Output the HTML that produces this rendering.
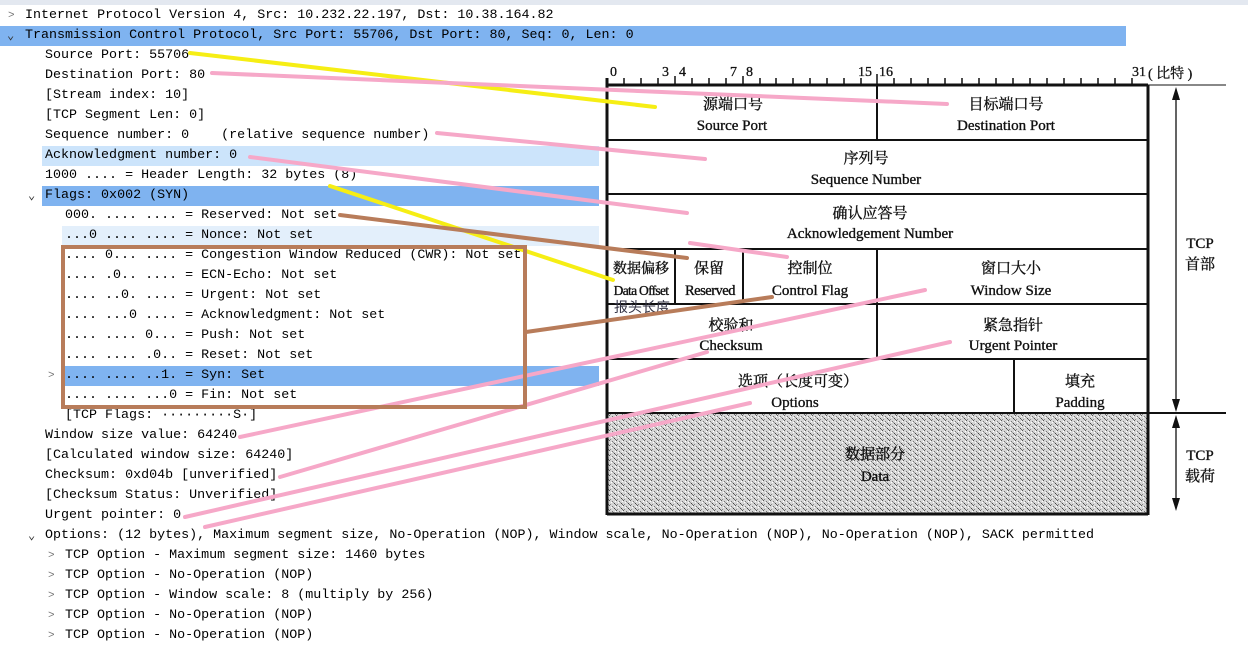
<!DOCTYPE html>
<html><head><meta charset="utf-8"><style>
body{margin:0;width:1248px;height:650px;overflow:hidden;background:#fff;position:relative;font-family:"Liberation Mono","Noto Sans CJK SC",monospace;}
.top{position:absolute;left:0;top:0;width:1248px;height:5px;background:#e3e8f0;}
.r{position:absolute;height:20px;line-height:20px;font-size:13.35px;color:#000;white-space:pre;}
.hl{position:absolute;height:20px;}
.ch{position:absolute;font-size:11px;color:#777;line-height:20px;}
</style></head><body>
<div class="top"></div>
<div class="hl" style="left:0;top:26px;width:1126px;background:#7fb3f0"></div>
<div class="hl" style="left:42px;top:146px;width:557px;background:#cce4fb"></div>
<div class="hl" style="left:42px;top:186px;width:557px;background:#7fb3f0"></div>
<div class="hl" style="left:62px;top:226px;width:537px;background:#e3effb"></div>
<div class="hl" style="left:62px;top:366px;width:537px;background:#7fb3f0"></div>
<div class="ch" style="left:8px;top:6px">&gt;</div>
<div class="ch" style="left:7px;top:26px;font-size:12px;color:#333">&#8964;</div>
<div class="ch" style="left:28px;top:186px;font-size:12px;color:#333">&#8964;</div>
<div class="ch" style="left:48px;top:366px">&gt;</div>
<div class="ch" style="left:28px;top:526px;font-size:12px;color:#333">&#8964;</div>
<div class="ch" style="left:48px;top:546px">&gt;</div>
<div class="ch" style="left:48px;top:566px">&gt;</div>
<div class="ch" style="left:48px;top:586px">&gt;</div>
<div class="ch" style="left:48px;top:606px">&gt;</div>
<div class="ch" style="left:48px;top:626px">&gt;</div>
<div class="r" style="left:25px;top:6px">Internet Protocol Version 4, Src: 10.232.22.197, Dst: 10.38.164.82</div>
<div class="r" style="left:25px;top:26px">Transmission Control Protocol, Src Port: 55706, Dst Port: 80, Seq: 0, Len: 0</div>
<div class="r" style="left:45px;top:46px">Source Port: 55706</div>
<div class="r" style="left:45px;top:66px">Destination Port: 80</div>
<div class="r" style="left:45px;top:86px">[Stream index: 10]</div>
<div class="r" style="left:45px;top:106px">[TCP Segment Len: 0]</div>
<div class="r" style="left:45px;top:126px">Sequence number: 0    (relative sequence number)</div>
<div class="r" style="left:45px;top:146px">Acknowledgment number: 0</div>
<div class="r" style="left:45px;top:166px">1000 .... = Header Length: 32 bytes (8)</div>
<div class="r" style="left:45px;top:186px">Flags: 0x002 (SYN)</div>
<div class="r" style="left:65px;top:206px">000. .... .... = Reserved: Not set</div>
<div class="r" style="left:65px;top:226px">...0 .... .... = Nonce: Not set</div>
<div class="r" style="left:65px;top:246px">.... 0... .... = Congestion Window Reduced (CWR): Not set</div>
<div class="r" style="left:65px;top:266px">.... .0.. .... = ECN-Echo: Not set</div>
<div class="r" style="left:65px;top:286px">.... ..0. .... = Urgent: Not set</div>
<div class="r" style="left:65px;top:306px">.... ...0 .... = Acknowledgment: Not set</div>
<div class="r" style="left:65px;top:326px">.... .... 0... = Push: Not set</div>
<div class="r" style="left:65px;top:346px">.... .... .0.. = Reset: Not set</div>
<div class="r" style="left:65px;top:366px">.... .... ..1. = Syn: Set</div>
<div class="r" style="left:65px;top:386px">.... .... ...0 = Fin: Not set</div>
<div class="r" style="left:65px;top:406px">[TCP Flags: ·········S·]</div>
<div class="r" style="left:45px;top:426px">Window size value: 64240</div>
<div class="r" style="left:45px;top:446px">[Calculated window size: 64240]</div>
<div class="r" style="left:45px;top:466px">Checksum: 0xd04b [unverified]</div>
<div class="r" style="left:45px;top:486px">[Checksum Status: Unverified]</div>
<div class="r" style="left:45px;top:506px">Urgent pointer: 0</div>
<div class="r" style="left:45px;top:526px">Options: (12 bytes), Maximum segment size, No-Operation (NOP), Window scale, No-Operation (NOP), No-Operation (NOP), SACK permitted</div>
<div class="r" style="left:65px;top:546px">TCP Option - Maximum segment size: 1460 bytes</div>
<div class="r" style="left:65px;top:566px">TCP Option - No-Operation (NOP)</div>
<div class="r" style="left:65px;top:586px">TCP Option - Window scale: 8 (multiply by 256)</div>
<div class="r" style="left:65px;top:606px">TCP Option - No-Operation (NOP)</div>
<div class="r" style="left:65px;top:626px">TCP Option - No-Operation (NOP)</div>

<svg width="1248" height="650" style="position:absolute;left:0;top:0" xmlns="http://www.w3.org/2000/svg">
<defs>
<pattern id="nz" width="7" height="5" patternUnits="userSpaceOnUse">
<rect width="7" height="5" fill="#d6d6d6"/>
<rect x="0" y="0" width="1" height="1" fill="#555"/><rect x="3" y="1" width="1" height="1" fill="#777"/>
<rect x="5" y="3" width="1" height="1" fill="#444"/><rect x="1" y="4" width="1" height="1" fill="#888"/>
<rect x="4" y="2" width="1" height="1" fill="#999"/><rect x="6" y="4" width="1" height="1" fill="#666"/>
<rect x="2" y="2" width="1" height="1" fill="#fff"/><rect x="6" y="1" width="1" height="1" fill="#fff"/>
</pattern>
</defs>
<g font-family="Liberation Serif, Noto Serif CJK SC, serif" fill="#111">
<rect x="607" y="413" width="541" height="100" fill="url(#nz)"/>
<g stroke="#111" stroke-width="2" fill="none">
<line x1="607" y1="85" x2="1148" y2="85" stroke-width="3"/>
<line x1="607" y1="78" x2="607" y2="515" stroke-width="3"/>
<line x1="1148" y1="85" x2="1148" y2="515" stroke-width="3"/>
<line x1="607" y1="514" x2="1148" y2="514" stroke-width="3"/>
<line x1="607" y1="140" x2="1148" y2="140"/>
<line x1="607" y1="194" x2="1148" y2="194"/>
<line x1="607" y1="249" x2="1148" y2="249"/>
<line x1="607" y1="304" x2="1148" y2="304"/>
<line x1="607" y1="359" x2="1148" y2="359"/>
<line x1="607" y1="413" x2="1226" y2="413"/>
<line x1="1148" y1="85" x2="1226" y2="85" stroke-width="1"/>
<line x1="877" y1="85" x2="877" y2="140"/>
<line x1="877" y1="249" x2="877" y2="359"/>
<line x1="675" y1="249" x2="675" y2="304"/>
<line x1="743" y1="249" x2="743" y2="304"/>
<line x1="1014" y1="359" x2="1014" y2="413"/>
<line x1="1176" y1="92" x2="1176" y2="408" stroke-width="1.3"/>
<line x1="1176" y1="420" x2="1176" y2="507" stroke-width="1.3"/>
</g>
<g fill="#111">
<polygon points="1176,87 1172,100 1180,100"/><polygon points="1176,412 1172,399 1180,399"/>
<polygon points="1176,415 1172,428 1180,428"/><polygon points="1176,511 1172,498 1180,498"/>
</g>
<g stroke="#111" stroke-width="1.5">
<line x1="624" y1="78" x2="624" y2="85"/><line x1="641" y1="78" x2="641" y2="85"/><line x1="658" y1="78" x2="658" y2="85"/>
<line x1="675" y1="76" x2="675" y2="85"/><line x1="692" y1="78" x2="692" y2="85"/><line x1="709" y1="78" x2="709" y2="85"/>
<line x1="726" y1="78" x2="726" y2="85"/><line x1="743" y1="76" x2="743" y2="85"/><line x1="760" y1="78" x2="760" y2="85"/>
<line x1="776" y1="78" x2="776" y2="85"/><line x1="793" y1="78" x2="793" y2="85"/><line x1="810" y1="78" x2="810" y2="85"/>
<line x1="827" y1="78" x2="827" y2="85"/><line x1="844" y1="78" x2="844" y2="85"/><line x1="861" y1="78" x2="861" y2="85"/>
<line x1="877" y1="74" x2="877" y2="85"/><line x1="894" y1="78" x2="894" y2="85"/><line x1="911" y1="78" x2="911" y2="85"/>
<line x1="928" y1="78" x2="928" y2="85"/><line x1="945" y1="78" x2="945" y2="85"/><line x1="962" y1="78" x2="962" y2="85"/>
<line x1="979" y1="78" x2="979" y2="85"/><line x1="996" y1="78" x2="996" y2="85"/><line x1="1013" y1="78" x2="1013" y2="85"/>
<line x1="1030" y1="78" x2="1030" y2="85"/><line x1="1047" y1="78" x2="1047" y2="85"/><line x1="1064" y1="78" x2="1064" y2="85"/>
<line x1="1081" y1="78" x2="1081" y2="85"/><line x1="1098" y1="78" x2="1098" y2="85"/><line x1="1115" y1="78" x2="1115" y2="85"/>
<line x1="1132" y1="78" x2="1132" y2="85"/>
</g>
<g font-size="14" stroke="#111" stroke-width="0.3">
<text x="610" y="76">0</text><text x="662" y="76">3</text><text x="679" y="76">4</text>
<text x="730" y="76">7</text><text x="746" y="76">8</text><text x="858" y="76">15</text><text x="879" y="76">16</text>
<text x="1132" y="76">31</text><text x="1148" y="78" font-size="14">( 比特 )</text>
</g>
<g font-size="15" text-anchor="middle" stroke="#111" stroke-width="0.35">
<text x="733" y="109">源端口号</text><text x="732" y="130">Source Port</text>
<text x="1006" y="109">目标端口号</text><text x="1006" y="130">Destination Port</text>
<text x="866" y="163">序列号</text><text x="866" y="184">Sequence Number</text>
<text x="870" y="218">确认应答号</text><text x="870" y="238">Acknowledgement Number</text>
<text x="641" y="273" font-size="14">数据偏移</text><text x="641" y="295" font-size="13.5" letter-spacing="-0.7">Data Offset</text>
<text x="709" y="273">保留</text><text x="710" y="295" font-size="14.5" letter-spacing="-0.5">Reserved</text>
<text x="810" y="273">控制位</text><text x="810" y="295">Control Flag</text>
<text x="1011" y="273">窗口大小</text><text x="1011" y="295">Window Size</text>
<text x="731" y="330">校验和</text><text x="731" y="350">Checksum</text>
<text x="1013" y="330">紧急指针</text><text x="1013" y="350">Urgent Pointer</text>
<text x="798" y="386">选项（长度可变）</text><text x="795" y="407">Options</text>
<text x="1080" y="386">填充</text><text x="1080" y="407">Padding</text>
<text x="875" y="459">数据部分</text><text x="875" y="481">Data</text>
<text x="1200" y="248">TCP</text><text x="1200" y="269">首部</text>
<text x="1200" y="460">TCP</text><text x="1200" y="481">载荷</text>
</g>
<text x="614" y="312" font-size="14" fill="#334" font-family="Noto Sans CJK SC, sans-serif">报头长度</text>
</g>
<g stroke-linecap="round" fill="none">
<g stroke="#f6ee14" stroke-width="4">
<line x1="190" y1="53" x2="655" y2="107"/>
<line x1="330" y1="186" x2="613" y2="280"/>
</g>
<g stroke="#f6a8c8" stroke-width="4">
<line x1="212" y1="73" x2="947" y2="104"/>
<line x1="437" y1="133" x2="705" y2="159"/>
<line x1="250" y1="157" x2="687" y2="213"/>
<line x1="690" y1="243" x2="787" y2="257"/>
<line x1="240" y1="437" x2="925" y2="290"/>
<line x1="280" y1="477" x2="707" y2="352"/>
<line x1="185" y1="517" x2="950" y2="342"/>
<line x1="205" y1="527" x2="750" y2="403"/>
</g>
<g stroke="#b87c5a" stroke-width="4">
<line x1="340" y1="215" x2="687" y2="258"/>
<line x1="526" y1="332" x2="772" y2="297"/>
<rect x="63" y="247" width="462" height="160" stroke-linecap="butt"/>
</g>
</g>
</svg>
</body></html>
